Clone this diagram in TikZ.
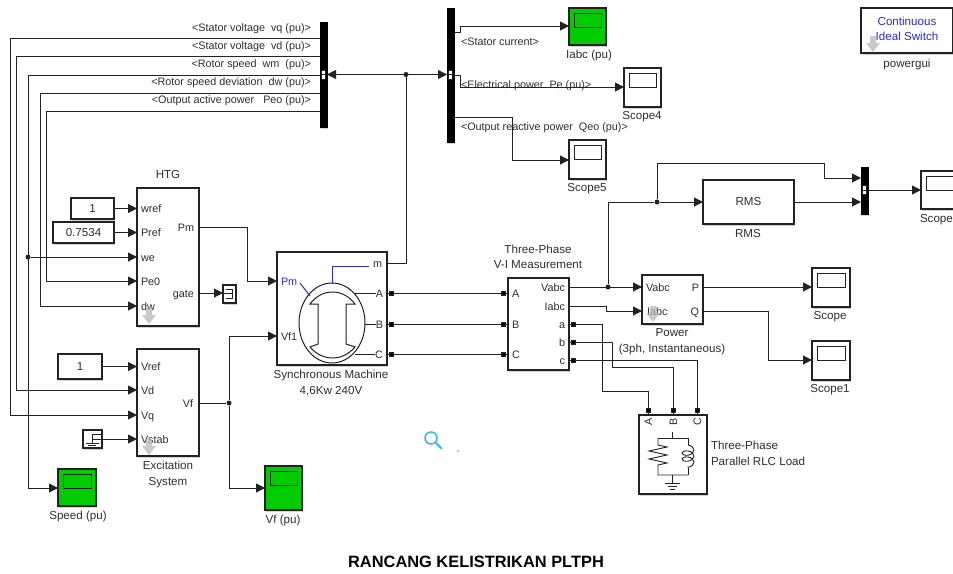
\documentclass[tikz,border=0pt]{standalone}
\usepackage{fontspec}
\setmainfont{Liberation Sans}
\usetikzlibrary{arrows.meta,shadows,decorations.pathmorphing,calc}
\definecolor{ink}{HTML}{222222}
\definecolor{txt}{HTML}{2E2E2E}
\definecolor{scgreen}{HTML}{00CC00}
\definecolor{bluetxt}{HTML}{2A2AE0}
\definecolor{lens}{HTML}{35B4FF}
\tikzset{
  wire/.style={draw=ink,line width=1pt},
  arr/.style={-{Triangle[length=9pt,width=9pt]}},
  soft/.style={drop shadow={shadow xshift=1.2pt,shadow yshift=-1.6pt,fill=gray,opacity=.35}},
  bx/.style={draw=ink,line width=1.1pt,fill=white,inner sep=0pt,outer sep=0pt,soft},
  busbar/.style={draw=black,fill=black,inner sep=0pt,outer sep=0pt,soft},
  lab/.style={inner sep=0pt,outer sep=0pt,text=txt,font=\fontsize{10.8}{13}\selectfont,text height=9pt,text depth=1pt},
  captxt/.style={inner sep=0pt,outer sep=0pt,text=txt,align=center,font=\fontsize{11.6}{15.6}\selectfont},
  dot/.style={circle,fill=ink,inner sep=0pt,minimum size=5pt},
  sq/.style={rectangle,draw=ink,fill=black,line width=.6pt,inner sep=0pt,minimum size=4pt},
  ghost/.style={fill=gray!55,draw=none,opacity=.75}
}
\newcommand{\blockat}[6][]{\node[bx,#1,minimum width={#4-#2},minimum height={#5-#3}] (#6) at ({(#2+#4)/2},{(#3+#5)/2}) {};}
\newcommand{\busat}[5]{\node[busbar,minimum width={#3-#1},minimum height={#4-#2}] (#5) at ({(#1+#3)/2},{(#2+#4)/2}) {};}
\newcommand{\scopeat}[6][white]{\blockat[fill=#1]{#2}{#3}{#4}{#5}{#6}
  \draw[ink,line width=1pt] ([shift={(5,5)}]#6.north west) rectangle ([shift={(-5,19.5)}]#6.north east);}
\newcommand{\ghostarrow}[2]{\fill[ghost] (#1-3,#2) -- (#1+3,#2) -- (#1+3,#2+7) -- (#1+7,#2+7) -- (#1,#2+16) -- (#1-7,#2+7) -- (#1-3,#2+7) -- cycle;}
\newcommand{\gatemark}[3]{\fill[white] (#1,#2-4.5) rectangle (#3,#2+4.5);\draw[ink,line width=.7pt] (#1,#2-4.5) rectangle (#3,#2+4.5);\draw[ink,line width=.7pt] (#1,#2) -- (#3,#2);}
\begin{document}
\begin{tikzpicture}[x=1pt,y=-1pt]
\useasboundingbox (0,0) rectangle (953,573);
\clip (0,0) rectangle (953,573);
% buses
\busat{320}{22}{327}{127}{busA}
\busat{447}{8}{454}{142}{busB}
\busat{861}{167}{868}{214}{muxC}
% blocks
\blockat{137}{188}{199}{326}{htg}
\blockat{137}{349}{199}{456}{exc}
\blockat{277}{252}{387}{365}{mach}
\blockat{508}{278}{569}{370}{meas}
\blockat{642}{275}{703}{324}{pow}
\blockat{703}{180}{794}{224}{rms}
\blockat{639}{415}{707}{494}{load}
\blockat{861}{8}{953}{53}{gui}
\blockat{71}{198}{114}{219}{cwref}
\blockat{53}{222}{114}{243}{cpref}
\blockat{58}{354}{102}{379}{cvref}
\blockat{223}{285}{236}{303}{term}
\blockat{83}{430}{102}{448}{gnd}
% scopes
\scopeat[scgreen]{569}{8}{606}{45}{sIabc}
\scopeat{624}{68}{661}{107}{sFour}
\scopeat{569}{140}{606}{179}{sFive}
\scopeat{921}{171}{960}{209}{sRms}
\scopeat{812}{268}{850}{307}{sP}
\scopeat{812}{341}{850}{380}{sQ}
\scopeat[scgreen]{58}{469}{96}{506}{sSpeed}
\scopeat[scgreen]{265}{466}{302}{510}{sVf}
% text inside constants, rms, gui
\node[captxt] (tOne) at (cwref.center) {1};
\node[captxt] (tPref) at (cpref.center) {0.7534};
\node[captxt] (tVref) at (cvref.center) {1};
\node[captxt] (tRms) at (rms.center) {RMS};
\node[captxt,text=bluetxt] (tGui) at (907,29) {Continuous\\Ideal Switch};
% port labels
\node[lab,anchor=west] (pwref) at (141,208) {wref};
\node[lab,anchor=west] (ppref) at (141,232) {Pref};
\node[lab,anchor=west] (pwe) at (141,257) {we};
\node[lab,anchor=west] (ppe) at (141,281) {Pe0};
\node[lab,anchor=west] (pdw) at (141,306) {dw};
\node[lab,anchor=east] (ppm) at (194,227) {Pm};
\node[lab,anchor=east] (pgate) at (194,293) {gate};
\node[lab,anchor=west] (pvref) at (141,366) {Vref};
\node[lab,anchor=west] (pvd) at (141,390) {Vd};
\node[lab,anchor=west] (pvq) at (141,415) {Vq};
\node[lab,anchor=west] (pvs) at (141,439) {Vstab};
\node[lab,anchor=east] (pvf) at (193,403) {Vf};
\node[lab,anchor=west,text=bluetxt] (mpm) at (281,281) {Pm};
\node[lab,anchor=west] (mvf) at (281,336) {Vf1};
\node[lab,anchor=east] (mm) at (382,263) {m};
\node[lab,anchor=east] (ma) at (383,293) {A};
\node[lab,anchor=east] (mb) at (383,324) {B};
\node[lab,anchor=east] (mc) at (383,354) {C};
\node[lab,anchor=west] (va) at (512,293) {A};
\node[lab,anchor=west] (vb) at (512,324) {B};
\node[lab,anchor=west] (vc) at (512,354) {C};
\node[lab,anchor=east] (vvabc) at (565,287) {Vabc};
\node[lab,anchor=east] (viabc) at (565,306) {Iabc};
\node[lab,anchor=east] (voa) at (565,324) {a};
\node[lab,anchor=east] (vob) at (565,342) {b};
\node[lab,anchor=east] (voc) at (565,360) {c};
\node[lab,anchor=west] (pvabc) at (646,287) {Vabc};
\node[lab,anchor=west] (piabc) at (647,311) {Iabc};
\node[lab,anchor=east] (pp) at (699,287) {P};
\node[lab,anchor=east] (pq) at (699,311) {Q};
\node[lab,rotate=90] (la) at (648,422) {A};
\node[lab,rotate=90] (lb) at (673,422) {B};
\node[lab,rotate=90] (lc) at (697,422) {C};
% bus signal labels
\node[lab,anchor=east] (t1) at (311,27) {<Stator voltage\ \ vq (pu)>};
\node[lab,anchor=east] (t2) at (311,45) {<Stator voltage\ \ vd (pu)>};
\node[lab,anchor=east] (t3) at (311,63) {<Rotor speed\ \ wm\ \ (pu)>};
\node[lab,anchor=east] (t4) at (311,81) {<Rotor speed deviation\ \ dw (pu)>};
\node[lab,anchor=east] (t5) at (311,99) {<Output active power\ \ \ Peo (pu)>};
\node[lab,anchor=west] (t6) at (461,41) {<Stator current>};
\node[lab,anchor=west] (t7) at (461,84) {<Electrical power\ \ Pe (pu)>};
\node[lab,anchor=west] (t8) at (461,126) {<Output reactive power\ \ Qeo (pu)>};
% block captions
\node[captxt] (cHtg) at (168,175) {HTG};
\node[captxt] (cExc) at (168,474.5) {Excitation\\System};
\node[captxt] (cMach) at (331,383) {Synchronous Machine\\4,6Kw 240V};
\node[captxt] (cMeas) at (538,257) {Three-Phase\\V-I Measurement};
\node[captxt] (cPow) at (672,342) {Power\\(3ph, Instantaneous)};
\node[captxt,align=left,anchor=west] (cLoad) at (711,453.5) {Three-Phase\\Parallel RLC Load};
\node[captxt] (cRms) at (748,234) {RMS};
\node[captxt] (cGui) at (907,64) {powergui};
\node[captxt] (cIabc) at (589,55) {Iabc (pu)};
\node[captxt] (cFour) at (642,117) {Scope4};
\node[captxt] (cFive) at (587,189) {Scope5};
\node[captxt,anchor=west] (cS) at (920,220) {Scope};
\node[captxt] (cP) at (830,317) {Scope};
\node[captxt] (cQ) at (830,390) {Scope1};
\node[captxt] (cSp) at (78,516) {Speed (pu)};
\node[captxt] (cVf) at (283,520) {Vf (pu)};
\node[inner sep=0pt,outer sep=0pt,text=black,font=\bfseries\fontsize{16.4}{18}\selectfont] (title) at (476,562) {RANCANG KELISTRIKAN PLTPH};
% junctions and bus tap points
\node[dot] (j1) at (406,74.5) {};
\node[dot] (j2) at (28,257) {};
\node[dot] (j3) at (229,403) {};
\node[dot] (j4) at (608,287) {};
\node[dot] (j5) at (657,202) {};
\coordinate (a1) at (320,38.5);
\coordinate (a2) at (320,56.5);
\coordinate (a3) at (320,75);
\coordinate (a4) at (320,93);
\coordinate (a5) at (320,111);
\coordinate (b1) at (454,32);
\coordinate (b2) at (454,75);
\coordinate (b3) at (454,117);
\coordinate (m1) at (861,178);
\coordinate (m2) at (861,202);
% power ports
\node[sq] (ka) at (391,293) {};
\node[sq] (kb) at (391,324) {};
\node[sq] (kc) at (391,354) {};
\node[sq] (ra) at (503,293) {};
\node[sq] (rb) at (503,324) {};
\node[sq] (rc) at (503,354) {};
\node[sq] (oa) at (573,324) {};
\node[sq] (ob) at (573,342) {};
\node[sq] (oc) at (573,360) {};
\node[sq] (ia) at (648,410) {};
\node[sq] (ib) at (673,410) {};
\node[sq] (ic) at (697,410) {};
% bus wires
\draw[wire,arr] (a1) -| (10,415) -- (exc.west |- pvq);
\draw[wire,arr] (a2) -| (16,390) -- (exc.west |- pvd);
\draw[wire,arr] (a3) -| (28,488) -- (sSpeed.west |- 0,488);
\draw[wire,arr] (a4) -| (40,306) -- (htg.west |- pdw);
\draw[wire,arr] (a5) -| (46,281) -- (htg.west |- ppe);
\draw[wire,arr] (j2) -- (htg.west |- pwe);
\draw[wire,{Triangle[length=9pt,width=9pt]}-{Triangle[length=9pt,width=9pt]}] (busA.east |- j1) -- (busB.west |- j1);
\draw[wire] (mach.east |- mm) -| (j1);
\draw[wire,arr] (b1) -- (460,32) -- (460,26) -- (sIabc.west |- 0,26);
\draw[wire,arr] (b2) -- (460,75) -- (460,87) -- (sFour.west |- 0,87);
\draw[wire,arr] (b3) -| (512,160) -- (sFive.west |- 0,160);
% constants into blocks
\draw[wire,arr] (cwref.east) -- (htg.west |- cwref.east);
\draw[wire,arr] (cpref.east) -- (htg.west |- cpref.east);
\draw[wire,arr] (cvref.east) -- (exc.west |- cvref.east);
\draw[wire,arr] (htg.east |- ppm) -| (247,281) -- (mach.west |- mpm);
\draw[wire,arr] (htg.east |- pgate) -- (term.west |- pgate);
\draw[wire,arr] (92,439) -- (exc.west |- pvs);
% excitation output
\draw[wire] (exc.east |- j3) -- (j3);
\draw[wire,arr] (j3) |- (mach.west |- mvf);
\draw[wire,arr] (j3) |- (sVf.west |- 0,488);
% three phase
\draw[wire] (mach.east |- ka) -- (ka) -- (ra) -- (meas.west |- ra);
\draw[wire] (mach.east |- kb) -- (kb) -- (rb) -- (meas.west |- rb);
\draw[wire] (mach.east |- kc) -- (kc) -- (rc) -- (meas.west |- rc);
\draw[wire] (meas.east |- oa) -- (oa) -- (602,324) -- (602,391) -- (648,391) -- (ia) -- (load.north -| ia);
\draw[wire] (meas.east |- ob) -- (ob) -- (612,342) -- (612,367) -- (673,367) -- (ib) -- (load.north -| ib);
\draw[wire] (meas.east |- oc) -- (oc) -- (697,360) -- (ic) -- (load.north -| ic);
% power and rms
\draw[wire,arr] (meas.east |- vvabc) -- (pow.west |- pvabc);
\draw[wire,arr] (meas.east |- viabc) -- (606,306) -- (606,311) -- (pow.west |- piabc);
\draw[wire,arr] (pow.east |- pp) -- (sP.west |- pp);
\draw[wire,arr] (pow.east |- pq) -- (768,311) -- (768,360) -- (sQ.west |- 0,360);
\draw[wire] (j4) -- (608,202) -- (j5);
\draw[wire,arr] (j5) -- (rms.west);
\draw[wire,arr] (j5) -- (657,163) -- (824,163) -- (824,178) -- (m1);
\draw[wire,arr] (rms.east) -- (m2);
\draw[wire,arr] (muxC.east |- 0,190) -- (sRms.west |- 0,190);
% bus windows
\gatemark{321.5}{74.5}{325.5}
\gatemark{448.5}{74.5}{452.5}
\gatemark{862.5}{190}{866.5}
% terminator
\draw[ink,line width=.8pt] (226,289) -- (232.5,289) -- (232.5,298.5) -- (226,298.5) (223,293.5) -- (232.5,293.5);
% ground block
\draw[ink,line width=.8pt] (102,434.5) -- (92,434.5) -- (92,443) (85.5,443) -- (98.5,443) (88,445.5) -- (96,445.5);
% synchronous machine symbol
\draw[ink,line width=1pt,fill=white] (332,323) ellipse [x radius=33,y radius=40];
\draw[ink,line width=1pt] (310,304) .. controls (316,296) and (324,292) .. (332.5,292) .. controls (341,292) and (349,296) .. (355,304) -- (346,304) -- (346,344) -- (355,347) .. controls (349,354) and (341,358) .. (332.5,358) .. controls (324,358) and (316,354) .. (310,347) -- (318,344) -- (318,304) -- cycle;
\draw[ink,line width=1pt] (355,293) -- (376,293) (365,324) -- (376,324) (355,354) -- (375,354);
\draw[bluetxt,line width=1pt] (300,283) -- (310,296);
\draw[bluetxt,line width=1pt] (332,284) -- (332,266) -- (369,266);
% load symbol
\draw[ink,line width=.9pt] (672,432) -- (672,438) (658,438) -- (688,438);
\draw[ink,line width=.9pt] (658,438) -- (658,445) -- (667,447) -- (649,451) -- (667,455) -- (649,459) -- (667,463) -- (658,465) -- (658,475) -- (688,475);
\draw[ink,line width=.9pt] (688,438) -- (688,445);
\draw[ink,line width=.9pt,decorate,decoration={coil,aspect=.6,segment length=6pt,amplitude=6pt}] (688,445) -- (688,468);
\draw[ink,line width=.9pt] (688,468) -- (688,475) (672,475) -- (672,483) (664.5,483) -- (680,483) (667.5,486) -- (677,486) (670,489) -- (674.5,489);
% block mask arrows
\ghostarrow{149}{308}
\ghostarrow{149}{439}
\ghostarrow{653}{306}
\ghostarrow{873}{36}
% magnifier overlay
\draw[lens,line width=1.5pt] (431,438) circle [radius=6];
\draw[lens,line width=2pt,line cap=round] (436,443) -- (441.5,448.5);
\fill[lens!50] (458,451) circle [radius=1.5];
\end{tikzpicture}
\end{document}
